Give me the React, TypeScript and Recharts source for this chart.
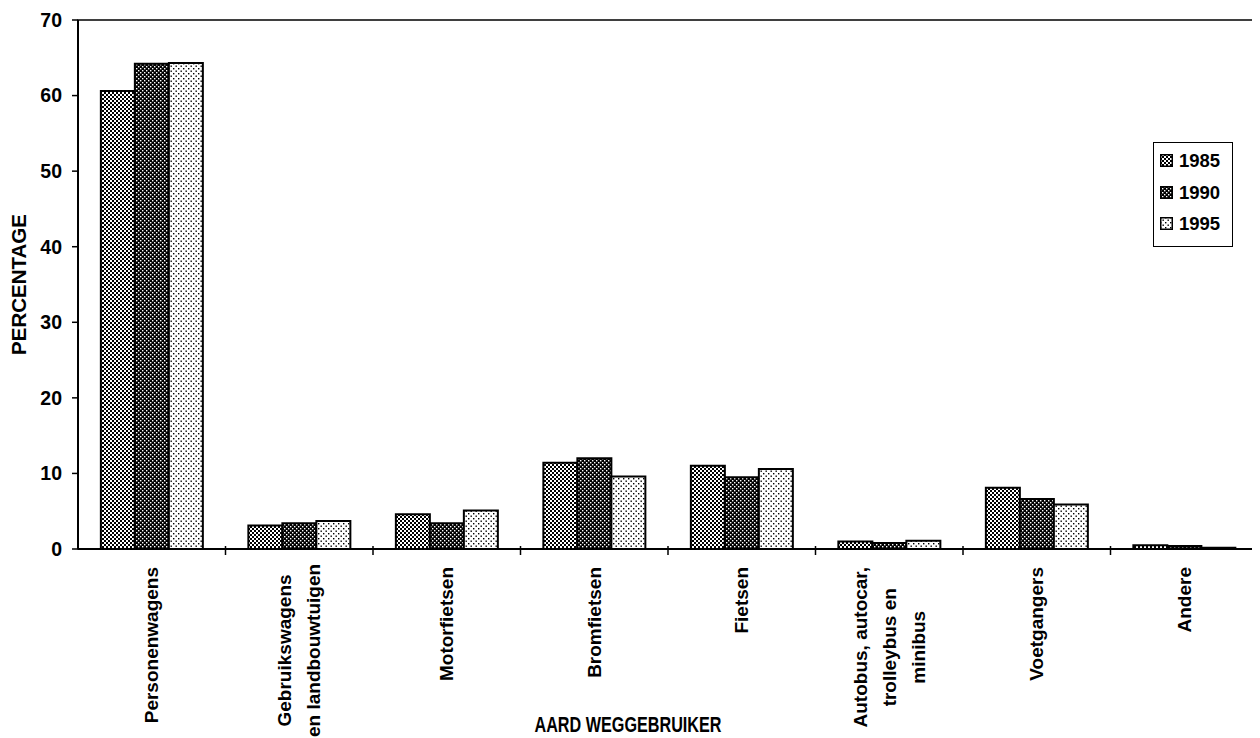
import React from "react";
import {
  BarChart,
  Bar,
  XAxis,
  YAxis,
  Label,
  Legend,
  ReferenceArea,
} from "recharts";

const CATEGORIES = [
  "Personenwagens",
  "Gebruikswagens\nen landbouwtuigen",
  "Motorfietsen",
  "Bromfietsen",
  "Fietsen",
  "Autobus, autocar,\ntrolleybus en\nminibus",
  "Voetgangers",
  "Andere",
];

const VALUES_1985 = [60.6, 3.1, 4.6, 11.4, 11.0, 1.0, 8.1, 0.5];
const VALUES_1990 = [64.2, 3.4, 3.4, 12.0, 9.5, 0.8, 6.6, 0.4];
const VALUES_1995 = [64.3, 3.7, 5.1, 9.6, 10.6, 1.1, 5.9, 0.15];

const YEARS = ["1985", "1990", "1995"];
const Y_TICKS = [0, 10, 20, 30, 40, 50, 60, 70];

const data = CATEGORIES.map((name, i) => ({
  name,
  y1985: VALUES_1985[i],
  y1990: VALUES_1990[i],
  y1995: VALUES_1995[i],
}));

const FONT = '"Liberation Sans", Arial, sans-serif';
const WIDTH = 1252;
const HEIGHT = 730;

const FILLS: Record<string, string> = {
  "1985": "url(#pat1985)",
  "1990": "url(#pat1990)",
  "1995": "url(#pat1995)",
};

let measureCtx: CanvasRenderingContext2D | null = null;
function textWidth(s: string, font: string) {
  if (!measureCtx) measureCtx = document.createElement("canvas").getContext("2d");
  if (!measureCtx) return s.length * 10;
  measureCtx.font = font;
  return measureCtx.measureText(s).width;
}

// rotated, multi-line category label; lines centred on the longest one.
// also draws the small tick mark on the boundary to the next category.
function CategoryTick(props: any) {
  const { x, y, payload, index, visibleTicksCount } = props;
  const lines: string[] = String(payload.value).split("\n");
  const size = 19;
  const pitch = 29;
  const longest = Math.max(...lines.map((l) => textWidth(l, `bold ${size}px ${FONT}`)));
  const start = Math.min(y + 18, HEIGHT - 1 - longest);
  const mid = start + longest / 2;
  const half = payload.offset || 0;
  const last = visibleTicksCount ? index >= visibleTicksCount - 1 : index >= CATEGORIES.length - 1;
  return (
    <g>
      {half > 0 && !last && (
        <line x1={x + half} x2={x + half} y1={y - 3} y2={y + 6} stroke="#000" strokeWidth={1.5} />
      )}
      <g transform={`translate(${x},${mid})`}>
        <text
          transform="rotate(-90)"
          textAnchor="middle"
          fontSize={size}
          fontWeight="bold"
          fontFamily={FONT}
          fill="#000"
        >
          {lines.map((l, i) => (
            <tspan key={i} x={0} y={(i - (lines.length - 1) / 2) * pitch} dy="0.35em">
              {l}
            </tspan>
          ))}
        </text>
      </g>
    </g>
  );
}

function LegendBox() {
  return (
    <div
      style={{
        border: "1.5px solid #000",
        background: "#fff",
        width: 72,
        padding: "2px 0 6px 6px",
        fontFamily: FONT,
        fontWeight: "bold",
        fontSize: 18.5,
        lineHeight: "31.5px",
        textAlign: "left",
      }}
    >
      {YEARS.map((yr) => (
        <div key={yr} style={{ display: "flex", alignItems: "center" }}>
          <svg width={13} height={13} style={{ marginRight: 6 }}>
            <rect x={0.75} y={0.75} width={11.5} height={11.5} fill={FILLS[yr]} stroke="#000" strokeWidth={1.5} />
          </svg>
          <span>{yr}</span>
        </div>
      ))}
    </div>
  );
}

export default function App() {
  return (
    <div style={{ width: WIDTH, height: HEIGHT, background: "#fff" }}>
      <BarChart
        width={WIDTH}
        height={HEIGHT}
        data={data}
        margin={{ top: 12, right: 2, left: 0, bottom: 0 }}
        barCategoryGap="15.5%"
        barGap={0}
      >
        <defs>
          <pattern id="pat1985" width="4" height="4" patternUnits="userSpaceOnUse">
            <rect width="4" height="4" fill="#fff" />
            <rect x="0" y="0" width="2" height="2" fill="#000" />
            <rect x="2" y="2" width="2" height="2" fill="#000" />
          </pattern>
          <pattern id="pat1990" width="4" height="4" patternUnits="userSpaceOnUse">
            <rect width="4" height="4" fill="#000" />
            <rect x="0" y="0" width="1.4" height="1.4" fill="#fff" />
            <rect x="2" y="2" width="1.4" height="1.4" fill="#fff" />
          </pattern>
          <pattern id="pat1995" width="5" height="5" patternUnits="userSpaceOnUse">
            <rect width="5" height="5" fill="#fff" />
            <rect x="0" y="0" width="1.4" height="1.4" fill="#000" />
            <rect x="2.5" y="2.5" width="1.4" height="1.4" fill="#000" />
          </pattern>
        </defs>
        <XAxis
          xAxisId="cat"
          dataKey="name"
          interval={0}
          height={189}
          tickSize={0}
          tickMargin={0}
          tickLine={false}
          axisLine={{ stroke: "#000", strokeWidth: 2 }}
          tick={<CategoryTick />}
        >
          <Label
            content={(p: any) => {
              const vb = p.viewBox;
              return (
                <text
                  x={vb.x + vb.width / 2 - 40}
                  y={vb.y + vb.height - 6}
                  textAnchor="middle"
                  fontFamily={FONT}
                  fontWeight="bold"
                  fontSize={22.5}
                  textLength={187}
                  lengthAdjust="spacingAndGlyphs"
                  fill="#000"
                >
                  AARD WEGGEBRUIKER
                </text>
              );
            }}
          />
        </XAxis>
        <YAxis
          width={70}
          domain={[0, 70]}
          ticks={Y_TICKS}
          interval={0}
          tickSize={6}
          tickMargin={10}
          axisLine={{ stroke: "#000", strokeWidth: 2 }}
          tickLine={{ stroke: "#000", strokeWidth: 1.5 }}
          tick={{ fill: "#000", fontSize: 19.5, fontWeight: "bold", fontFamily: FONT }}
        >
          <Label
            content={(p: any) => {
              const vb = p.viewBox;
              const cx = 10.5;
              const cy = vb.y + vb.height / 2;
              return (
                <text
                  x={cx}
                  y={cy}
                  transform={`rotate(-90 ${cx} ${cy})`}
                  textAnchor="middle"
                  dominantBaseline="central"
                  fontFamily={FONT}
                  fontWeight="bold"
                  fontSize={20.5}
                  fill="#000"
                >
                  PERCENTAGE
                </text>
              );
            }}
          />
        </YAxis>
        <ReferenceArea
          xAxisId="cat"
          y1={0}
          y2={70}
          fill="none"
          stroke="#000"
          strokeWidth={1.5}
          ifOverflow="visible"
        />
        <Legend
          layout="vertical"
          align="center"
          verticalAlign="middle"
          content={<LegendBox />}
          wrapperStyle={{ position: "absolute", left: 1145, top: 134, width: "auto", height: "auto" }}
        />
        {YEARS.map((yr) => (
          <Bar
            key={yr}
            xAxisId="cat"
            dataKey={`y${yr}`}
            name={yr}
            fill={FILLS[yr]}
            stroke="#000"
            strokeWidth={2}
            isAnimationActive={false}
          />
        ))}
      </BarChart>
    </div>
  );
}
